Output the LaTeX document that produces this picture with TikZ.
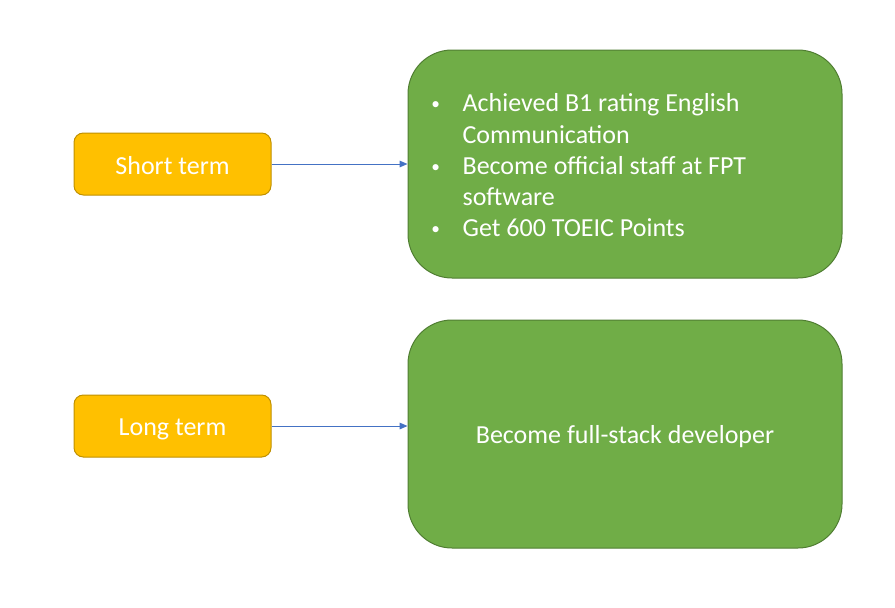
\documentclass[tikz,border=0pt]{standalone}
\usepackage{fontspec}
\setmainfont{Carlito}
\usepackage{tikz}
\usetikzlibrary{positioning}
\usetikzlibrary{arrows.meta}

\definecolor{termfill}{HTML}{FFC000}
\definecolor{termline}{HTML}{BF9000}
\definecolor{goalfill}{HTML}{70AD47}
\definecolor{goalline}{HTML}{507E32}
\definecolor{arrowblue}{HTML}{4472C4}

\newcommand{\goaldot}{\raisebox{1.5pt}{\fontsize{13}{14}\selectfont\textbullet}}

\begin{document}
\begin{tikzpicture}[x=0.75pt, y=-0.75pt,
    termbox/.style={draw=termline, line width=0.75pt, fill=termfill, rounded corners=7pt,
      minimum width=147.75pt, minimum height=46.5pt, inner sep=0pt, text=white,
      text depth=0pt, font=\fontsize{19.5}{23.4}\selectfont},
    goalbox/.style={draw=goalline, line width=0.75pt, fill=goalfill, rounded corners=33pt,
      minimum width=325.5pt, minimum height=171pt, inner sep=0pt, text=white,
      text depth=0pt, font=\fontsize{19.5}{23.4}\selectfont},
    goaltext/.style={inner sep=0pt, text=white, font=\fontsize{19.5}{23.4}\selectfont},
    link/.style={draw=arrowblue, line width=0.75pt, -{Triangle[length=6pt,width=5pt]}}]
    \useasboundingbox (0,0) rectangle (895,607);
    \node[termbox] (short) at (172.5,164) {\raisebox{-1.5pt}{Short term}};
    \node[goalbox] (shortgoal) at (625,164) {};
    \node[goaltext, anchor=west] (shortlist) at (431,168) {%
      \begin{tabular}{@{}p{23.5pt}@{}l@{}}
        \goaldot & Achieved B1 rating English\\
         & Communication\\
        \goaldot & Become official staff at FPT\\
         & software\\
        \goaldot & Get 600 TOEIC Points
      \end{tabular}};
    \draw [link] (short) -- (short -| shortgoal.west);
    \node[termbox] (long) at (172.5,426) {\raisebox{-1.5pt}{Long term}};
    \node[goalbox] (longgoal) at (625,434) {\raisebox{-1pt}{Become full-stack developer}};
    \draw [link] (long) -- (long -| longgoal.west);
  \end{tikzpicture}
\end{document}
